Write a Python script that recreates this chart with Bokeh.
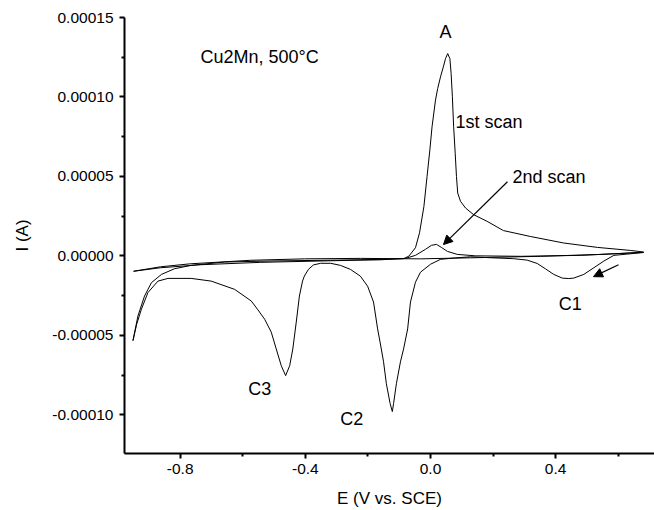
from bokeh.plotting import figure
from bokeh.models import Range1d, FixedTicker, PrintfTickFormatter, Arrow, NormalHead
from bokeh.core.properties import value
from bokeh.embed import file_html
from bokeh.resources import INLINE

# ---- data ----
# first scan, cathodic sweep (0.68 V -> -0.95 V): C1, C2, C3 peaks
scan1_cat_E = [0.681, 0.586, 0.554, 0.522, 0.490, 0.458, 0.442, 0.421, 0.394, 0.367, 0.341, 0.309,
               0.266, 0.192, 0.128, 0.080, 0.032, 0.000, -0.032, -0.048, -0.064, -0.073, -0.086,
               -0.096, -0.109, -0.118, -0.122, -0.129, -0.141, -0.150, -0.160, -0.169, -0.182,
               -0.201, -0.224, -0.256, -0.288, -0.319, -0.351, -0.374, -0.390, -0.403, -0.409,
               -0.419, -0.429, -0.440, -0.450, -0.463, -0.477, -0.493, -0.509, -0.530, -0.553,
               -0.573, -0.626, -0.701, -0.765, -0.839, -0.871, -0.903, -0.924, -0.939, -0.951]
scan1_cat_I = [2.1e-6, 3e-7, -3.3e-6, -7.5e-6, -1.17e-5, -1.4e-5, -1.43e-5, -1.4e-5, -1.17e-5,
               -8.1e-6, -4.8e-6, -2.7e-6, -1.8e-6, -1.2e-6, -6e-7, -1.3e-6, -2.2e-6, -5.3e-6,
               -1.03e-5, -1.66e-5, -2.91e-5, -4.6e-5, -5.86e-5, -6.67e-5, -8.05e-5, -9.3e-5,
               -9.8e-5, -9.3e-5, -8.05e-5, -6.67e-5, -5.55e-5, -4.6e-5, -2.91e-5, -1.91e-5,
               -1.28e-5, -8.5e-6, -6.0e-6, -4.7e-6, -4.7e-6, -5.7e-6, -8.5e-6, -1.27e-5, -1.59e-5,
               -2.53e-5, -4.17e-5, -5.86e-5, -6.91e-5, -7.54e-5, -6.91e-5, -5.86e-5, -4.8e-5,
               -3.99e-5, -3.36e-5, -2.84e-5, -2.11e-5, -1.59e-5, -1.42e-5, -1.42e-5, -1.59e-5,
               -2.31e-5, -3.36e-5, -4.3e-5, -5.34e-5]

# first scan, anodic sweep (-0.95 V -> 0.68 V): A peak
scan1_an_E = [-0.951, -0.935, -0.914, -0.892, -0.860, -0.818, -0.765, -0.658, -0.500, -0.300,
              -0.150, -0.086, -0.069, -0.048, -0.035, -0.021, -0.011, -0.002, 0.005, 0.016, 0.023,
              0.032, 0.041, 0.048, 0.055, 0.062, 0.066, 0.070, 0.074, 0.079, 0.083, 0.087, 0.096,
              0.112, 0.138, 0.181, 0.233, 0.319, 0.425, 0.534, 0.639, 0.681]
scan1_an_I = [-5.34e-5, -3.78e-5, -2.53e-5, -1.69e-5, -1.17e-5, -8.1e-6, -6.0e-6, -3.9e-6,
              -3.2e-6, -2.7e-6, -2.2e-6, -1.8e-6, -2e-7, 5.1e-6, 1.45e-5, 3.11e-5, 4.99e-5, 6.67e-5,
              8.13e-5, 9.8e-5, 1.053e-4, 1.126e-4, 1.189e-4, 1.241e-4, 1.273e-4, 1.241e-4,
              1.147e-4, 1.001e-4, 8.13e-5, 6.46e-5, 5.0e-5, 3.95e-5, 3.43e-5, 3.01e-5, 2.59e-5,
              2.17e-5, 1.59e-5, 1.22e-5, 8.1e-6, 5.3e-6, 3.4e-6, 2.4e-6]

# second scan, cathodic sweep
scan2_cat_E = [0.681, 0.543, 0.351, 0.128, -0.032, -0.224, -0.403, -0.575, -0.767, -0.863, -0.949]
scan2_cat_I = [2.19e-6, 9e-7, -3e-7, -1.25e-6, -1.9e-6, -1.6e-6, -1.9e-6, -2.8e-6, -5.0e-6, -6.9e-6,
               -9.7e-6]

# second scan, anodic sweep
scan2_an_E = [-0.949, -0.863, -0.735, -0.543, -0.319, -0.160, -0.080, -0.048, -0.016, 0.003, 0.019,
              0.035, 0.054, 0.086, 0.144, 0.288, 0.479, 0.681]
scan2_an_I = [-9.7e-6, -7.5e-6, -5.6e-6, -4.1e-6, -3.1e-6, -2.5e-6, -1.6e-6, 3e-7, 4.1e-6, 6.6e-6,
              7.2e-6, 5.3e-6, 2.8e-6, 9e-7, 0.0, -3e-7, 3e-7, 2.19e-6]

x_ticks = [-0.8, -0.4, 0.0, 0.4]
x_minor = [-0.6, -0.2, 0.2, 0.6]
y_ticks = [-0.0001, -0.00005, 0.0, 0.00005, 0.0001, 0.00015]
y_minor = [-0.000075, -0.000025, 0.000025, 0.000075, 0.000125]

label_texts = ["A", "C1", "C2", "C3"]
label_E = [0.048, 0.447, -0.252, -0.546]
label_I = [1.406e-4, -3.05e-5, -1.025e-4, -8.37e-5]

left_texts = ["Cu2Mn, 500°C", "1st scan", "2nd scan"]
left_E = [-0.735, 0.080, 0.262]
left_I = [1.249e-4, 8.42e-5, 4.98e-5]

# arrows: (start E, start I, end E, end I)
arrow_2nd = (0.246, 4.66e-5, 0.0415, 7.1e-6)
arrow_scan = (0.601, -5.6e-6, 0.521, -1.31e-5)

FONT = "Liberation Sans"

p = figure(width=654, height=510, output_backend="svg", toolbar_location=None,
           x_range=Range1d(-0.978, 0.716), y_range=Range1d(-0.0001244, 0.00015),
           min_border_left=124, min_border_right=0, min_border_top=17, min_border_bottom=55)
p.outline_line_color = None
p.xgrid.visible = False
p.ygrid.visible = False
p.background_fill_color = "white"
p.border_fill_color = "white"

for E, I in [(scan1_cat_E, scan1_cat_I), (scan1_an_E, scan1_an_I),
             (scan2_cat_E, scan2_cat_I), (scan2_an_E, scan2_an_I)]:
    p.line(E, I, line_color="black", line_width=1, line_join="round")

for ax in (p.xaxis[0], p.yaxis[0]):
    ax.axis_line_width = 2
    ax.axis_line_color = "black"
    ax.major_tick_line_width = 2
    ax.minor_tick_line_width = 2
    ax.major_tick_out = 5
    ax.major_tick_in = 0
    ax.minor_tick_out = 3
    ax.minor_tick_in = 0
    ax.major_label_text_font = FONT
    ax.major_label_text_font_size = "15.5px"
    ax.major_label_text_color = "black"
    ax.axis_label_text_font = FONT
    ax.axis_label_text_font_size = "17px"
    ax.axis_label_text_font_style = "normal"
    ax.axis_label_text_color = "black"

p.xaxis.ticker = FixedTicker(ticks=x_ticks, minor_ticks=x_minor)
p.yaxis.ticker = FixedTicker(ticks=y_ticks, minor_ticks=y_minor)
p.xaxis.formatter = PrintfTickFormatter(format="%.1f")
p.yaxis.formatter = PrintfTickFormatter(format="%.5f")
p.xaxis.axis_label = "E (V vs. SCE)"
p.yaxis.axis_label = "I (A)"
p.xaxis.major_label_standoff = 5
p.yaxis.major_label_standoff = 6
p.xaxis.axis_label_standoff = 12
p.yaxis.axis_label_standoff = 17

p.text(x=label_E, y=label_I, text=label_texts, text_font=value(FONT), text_font_size="18px",
       text_align="center", text_baseline="middle", text_color="black")
p.text(x=left_E, y=left_I, text=left_texts, text_font=value(FONT), text_font_size="18px",
       text_align="left", text_baseline="middle", text_color="black")

for (x0, y0, x1, y1) in (arrow_2nd, arrow_scan):
    p.add_layout(Arrow(x_start=x0, y_start=y0, x_end=x1, y_end=y1, line_color="black",
                       line_width=1.2,
                       end=NormalHead(size=9, fill_color="black", line_color="black")))

open("out.html", "w").write(file_html(p, INLINE))
